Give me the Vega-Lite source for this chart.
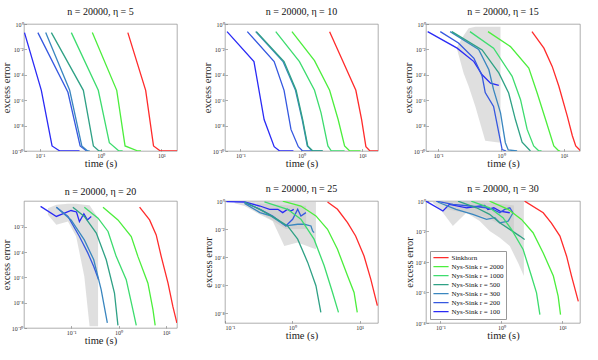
{
  "$schema": "https://vega.github.io/schema/vega-lite/v6.json",
  "background": "white",
  "padding": {"left": 0, "top": 6, "right": 4, "bottom": 4},
  "bounds": "flush",
  "center": true,
  "columns": 3,
  "spacing": {"row": 50, "column": 48},
  "datasets": {
    "lines": [
      {"panel":1,"series":"100","time":0.056,"err":0.21},{"panel":1,"series":"100","time":0.106,"err":6e-6},{"panel":1,"series":"100","time":0.159,"err":2.5e-10},{"panel":1,"series":"100","time":0.213,"err":1e-10},{"panel":1,"series":"100","time":0.45,"err":1e-10},
      {"panel":1,"series":"200","time":0.093,"err":0.21},{"panel":1,"series":"200","time":0.29,"err":4.2e-6},{"panel":1,"series":"200","time":0.46,"err":2.5e-10},{"panel":1,"series":"200","time":0.59,"err":1e-10},{"panel":1,"series":"200","time":0.62,"err":1e-10},
      {"panel":1,"series":"300","time":0.125,"err":0.21},{"panel":1,"series":"300","time":0.31,"err":6e-6},{"panel":1,"series":"300","time":0.49,"err":2.5e-10},{"panel":1,"series":"300","time":0.61,"err":1e-10},{"panel":1,"series":"300","time":0.66,"err":1e-10},
      {"panel":1,"series":"500","time":0.155,"err":0.21},{"panel":1,"series":"500","time":0.52,"err":6e-6},{"panel":1,"series":"500","time":0.76,"err":2.5e-10},{"panel":1,"series":"500","time":0.94,"err":1e-10},{"panel":1,"series":"500","time":1.05,"err":1e-10},
      {"panel":1,"series":"1000","time":0.33,"err":0.21},{"panel":1,"series":"1000","time":0.915,"err":6e-6},{"panel":1,"series":"1000","time":1.39,"err":4.5e-10},{"panel":1,"series":"1000","time":2.0,"err":1e-10},{"panel":1,"series":"1000","time":2.3,"err":1e-10},
      {"panel":1,"series":"2000","time":0.73,"err":0.21},{"panel":1,"series":"2000","time":1.84,"err":6e-6},{"panel":1,"series":"2000","time":2.52,"err":2.5e-10},{"panel":1,"series":"2000","time":4.1,"err":1e-10},{"panel":1,"series":"2000","time":4.6,"err":1e-10},
      {"panel":1,"series":"Sinkhorn","time":2.8,"err":0.21},{"panel":1,"series":"Sinkhorn","time":5.5,"err":6e-6},{"panel":1,"series":"Sinkhorn","time":7.4,"err":2.5e-10},{"panel":1,"series":"Sinkhorn","time":9.6,"err":1e-10},{"panel":1,"series":"Sinkhorn","time":18,"err":1e-10},

      {"panel":2,"series":"100","time":0.0605,"err":0.25},{"panel":2,"series":"100","time":0.167,"err":1.1e-3},{"panel":2,"series":"100","time":0.245,"err":3e-8},{"panel":2,"series":"100","time":0.358,"err":2.2e-10},{"panel":2,"series":"100","time":0.44,"err":1e-10},{"panel":2,"series":"100","time":0.74,"err":1e-10},
      {"panel":2,"series":"200","time":0.13,"err":0.25},{"panel":2,"series":"200","time":0.358,"err":1.1e-3},{"panel":2,"series":"200","time":0.52,"err":6e-6},{"panel":2,"series":"200","time":0.675,"err":5e-9},{"panel":2,"series":"200","time":0.89,"err":2.2e-10},{"panel":2,"series":"200","time":1.05,"err":1e-10},{"panel":2,"series":"200","time":1.54,"err":1e-10},
      {"panel":2,"series":"300","time":0.178,"err":0.25},{"panel":2,"series":"300","time":0.5,"err":1.1e-3},{"panel":2,"series":"300","time":0.8,"err":6e-6},{"panel":2,"series":"300","time":1.03,"err":3e-8},{"panel":2,"series":"300","time":1.25,"err":2.5e-10},{"panel":2,"series":"300","time":1.5,"err":1e-10},{"panel":2,"series":"300","time":2.2,"err":1e-10},
      {"panel":2,"series":"500","time":0.183,"err":0.25},{"panel":2,"series":"500","time":0.52,"err":1.1e-3},{"panel":2,"series":"500","time":0.82,"err":6e-6},{"panel":2,"series":"500","time":1.05,"err":3e-8},{"panel":2,"series":"500","time":1.27,"err":2.5e-10},{"panel":2,"series":"500","time":1.54,"err":1e-10},{"panel":2,"series":"500","time":2.25,"err":1e-10},
      {"panel":2,"series":"1000","time":0.38,"err":0.25},{"panel":2,"series":"1000","time":0.93,"err":1.1e-3},{"panel":2,"series":"1000","time":1.64,"err":6e-6},{"panel":2,"series":"1000","time":2.1,"err":1e-7},{"panel":2,"series":"1000","time":2.72,"err":2.5e-10},{"panel":2,"series":"1000","time":3.1,"err":1e-10},{"panel":2,"series":"1000","time":5.1,"err":1e-10},
      {"panel":2,"series":"2000","time":0.7,"err":0.25},{"panel":2,"series":"2000","time":1.64,"err":1.3e-3},{"panel":2,"series":"2000","time":2.9,"err":6e-6},{"panel":2,"series":"2000","time":4.0,"err":3e-8},{"panel":2,"series":"2000","time":5.1,"err":2.5e-10},{"panel":2,"series":"2000","time":6.2,"err":1e-10},{"panel":2,"series":"2000","time":9.3,"err":1e-10},
      {"panel":2,"series":"Sinkhorn","time":2.9,"err":0.25},{"panel":2,"series":"Sinkhorn","time":4.8,"err":1.1e-3},{"panel":2,"series":"Sinkhorn","time":7.8,"err":6e-6},{"panel":2,"series":"Sinkhorn","time":9.7,"err":3e-8},{"panel":2,"series":"Sinkhorn","time":11.4,"err":2.2e-10},{"panel":2,"series":"Sinkhorn","time":13.3,"err":1e-10},{"panel":2,"series":"Sinkhorn","time":19,"err":1e-10},

      {"panel":3,"series":"100","time":0.068,"err":0.25},{"panel":3,"series":"100","time":0.2,"err":0.0126},{"panel":3,"series":"100","time":0.37,"err":1.1e-3},{"panel":3,"series":"100","time":0.5,"err":1e-4},{"panel":3,"series":"100","time":0.68,"err":2.2e-5},{"panel":3,"series":"100","time":0.92,"err":1.5e-5},
      {"panel":3,"series":"200","time":0.108,"err":0.25},{"panel":3,"series":"200","time":0.21,"err":0.032},{"panel":3,"series":"200","time":0.37,"err":2e-3},{"panel":3,"series":"200","time":0.5,"err":8e-5},{"panel":3,"series":"200","time":0.56,"err":4e-6},{"panel":3,"series":"200","time":0.76,"err":3.2e-7},{"panel":3,"series":"200","time":0.94,"err":1.6e-9},{"panel":3,"series":"200","time":1.04,"err":1.3e-10},{"panel":3,"series":"200","time":1.2,"err":1e-10},
      {"panel":3,"series":"300","time":0.155,"err":0.25},{"panel":3,"series":"300","time":0.44,"err":0.01},{"panel":3,"series":"300","time":0.64,"err":2.5e-4},{"panel":3,"series":"300","time":0.76,"err":6.8e-6},{"panel":3,"series":"300","time":0.98,"err":1e-7},{"panel":3,"series":"300","time":1.17,"err":4.5e-10},{"panel":3,"series":"300","time":1.3,"err":1.2e-10},{"panel":3,"series":"300","time":1.8,"err":1e-10},
      {"panel":3,"series":"500","time":0.165,"err":0.25},{"panel":3,"series":"500","time":0.5,"err":9e-3},{"panel":3,"series":"500","time":0.92,"err":1.4e-4},{"panel":3,"series":"500","time":1.32,"err":3.7e-6},{"panel":3,"series":"500","time":1.69,"err":3e-8},{"panel":3,"series":"500","time":2.16,"err":5e-10},{"panel":3,"series":"500","time":2.93,"err":1e-10},
      {"panel":3,"series":"1000","time":0.32,"err":0.25},{"panel":3,"series":"1000","time":0.76,"err":0.0126},{"panel":3,"series":"1000","time":1.5,"err":7.6e-5},{"panel":3,"series":"1000","time":2.04,"err":1.1e-6},{"panel":3,"series":"1000","time":2.6,"err":5e-9},{"panel":3,"series":"1000","time":3.3,"err":2.5e-10},{"panel":3,"series":"1000","time":4.0,"err":1e-10},{"panel":3,"series":"1000","time":4.4,"err":1e-10},
      {"panel":3,"series":"2000","time":0.62,"err":0.25},{"panel":3,"series":"2000","time":1.41,"err":0.0166},{"panel":3,"series":"2000","time":2.76,"err":3.4e-4},{"panel":3,"series":"2000","time":3.75,"err":3.7e-6},{"panel":3,"series":"2000","time":5.1,"err":3e-8},{"panel":3,"series":"2000","time":6.9,"err":2.5e-10},{"panel":3,"series":"2000","time":8.3,"err":1e-10},{"panel":3,"series":"2000","time":8.7,"err":1e-10},
      {"panel":3,"series":"Sinkhorn","time":3.1,"err":0.25},{"panel":3,"series":"Sinkhorn","time":4.8,"err":0.0126},{"panel":3,"series":"Sinkhorn","time":6.5,"err":4.6e-4},{"panel":3,"series":"Sinkhorn","time":8.3,"err":1.26e-5},{"panel":3,"series":"Sinkhorn","time":11.3,"err":5.5e-8},{"panel":3,"series":"Sinkhorn","time":13.6,"err":1.6e-9},{"panel":3,"series":"Sinkhorn","time":15.4,"err":2.5e-10},{"panel":3,"series":"Sinkhorn","time":18.5,"err":1e-10},

      {"panel":4,"series":"100","time":0.0228,"err":0.41},{"panel":4,"series":"100","time":0.049,"err":0.066},{"panel":4,"series":"100","time":0.1,"err":0.195},{"panel":4,"series":"100","time":0.13,"err":0.15},{"panel":4,"series":"100","time":0.15,"err":0.026},{"panel":4,"series":"100","time":0.186,"err":0.107},{"panel":4,"series":"100","time":0.22,"err":0.035},{"panel":4,"series":"100","time":0.266,"err":0.066},
      {"panel":4,"series":"200","time":0.049,"err":0.355},{"panel":4,"series":"200","time":0.086,"err":0.066},{"panel":4,"series":"200","time":0.15,"err":1.7e-3},{"panel":4,"series":"200","time":0.226,"err":8.3e-5},{"panel":4,"series":"200","time":0.3,"err":7.4e-6},{"panel":4,"series":"200","time":0.38,"err":6.6e-7},
      {"panel":4,"series":"300","time":0.049,"err":0.355},{"panel":4,"series":"300","time":0.1,"err":0.035},{"panel":4,"series":"300","time":0.19,"err":9.3e-4},{"panel":4,"series":"300","time":0.3,"err":2.5e-5},{"panel":4,"series":"300","time":0.43,"err":1.07e-7},{"panel":4,"series":"300","time":0.58,"err":2.5e-10},
      {"panel":4,"series":"500","time":0.109,"err":0.355},{"panel":4,"series":"500","time":0.19,"err":0.066},{"panel":4,"series":"500","time":0.34,"err":3.2e-3},{"panel":4,"series":"500","time":0.55,"err":2.5e-5},{"panel":4,"series":"500","time":0.82,"err":5.8e-8},{"panel":4,"series":"500","time":0.97,"err":1.6e-10},
      {"panel":4,"series":"1000","time":0.19,"err":0.355},{"panel":4,"series":"1000","time":0.37,"err":0.048},{"panel":4,"series":"1000","time":0.6,"err":4.3e-3},{"panel":4,"series":"1000","time":0.89,"err":4.6e-5},{"panel":4,"series":"1000","time":1.45,"err":6.6e-7},{"panel":4,"series":"1000","time":2.0,"err":2.8e-9},{"panel":4,"series":"1000","time":2.36,"err":1.6e-10},
      {"panel":4,"series":"2000","time":0.47,"err":0.355},{"panel":4,"series":"2000","time":0.97,"err":0.035},{"panel":4,"series":"2000","time":1.85,"err":1.7e-3},{"panel":4,"series":"2000","time":2.55,"err":4.6e-5},{"panel":4,"series":"2000","time":4.15,"err":3.5e-7},{"panel":4,"series":"2000","time":5.3,"err":2.8e-9},{"panel":4,"series":"2000","time":5.9,"err":1.6e-10},
      {"panel":4,"series":"Sinkhorn","time":2.77,"err":0.355},{"panel":4,"series":"Sinkhorn","time":4.5,"err":0.035},{"panel":4,"series":"Sinkhorn","time":6.2,"err":2.3e-3},{"panel":4,"series":"Sinkhorn","time":7.9,"err":4.6e-5},{"panel":4,"series":"Sinkhorn","time":11,"err":3.5e-7},{"panel":4,"series":"Sinkhorn","time":13.9,"err":5.1e-9},{"panel":4,"series":"Sinkhorn","time":16.9,"err":2.5e-10},

      {"panel":5,"series":"100","time":0.105,"err":0.9},{"panel":5,"series":"100","time":0.195,"err":0.85},{"panel":5,"series":"100","time":0.33,"err":0.44},{"panel":5,"series":"100","time":0.46,"err":0.255},{"panel":5,"series":"100","time":0.61,"err":0.255},{"panel":5,"series":"100","time":0.72,"err":0.148},{"panel":5,"series":"100","time":0.85,"err":0.255},{"panel":5,"series":"100","time":0.95,"err":0.195},{"panel":5,"series":"100","time":1.05,"err":0.255},
      {"panel":5,"series":"200","time":0.195,"err":0.76},{"panel":5,"series":"200","time":0.33,"err":0.255},{"panel":5,"series":"200","time":0.51,"err":0.086},{"panel":5,"series":"200","time":0.8,"err":0.0167},{"panel":5,"series":"200","time":1.01,"err":0.05},{"panel":5,"series":"200","time":1.2,"err":0.255},{"panel":5,"series":"200","time":1.34,"err":0.086},{"panel":5,"series":"200","time":1.59,"err":0.148},
      {"panel":5,"series":"300","time":0.195,"err":0.68},{"panel":5,"series":"300","time":0.33,"err":0.148},{"panel":5,"series":"300","time":0.48,"err":0.086},{"panel":5,"series":"300","time":0.8,"err":0.0167},{"panel":5,"series":"300","time":1.2,"err":0.022},{"panel":5,"series":"300","time":1.5,"err":0.022},{"panel":5,"series":"300","time":1.89,"err":0.0167},{"panel":5,"series":"300","time":2.0,"err":7.4e-3},{"panel":5,"series":"300","time":2.1,"err":5.6e-3},
      {"panel":5,"series":"500","time":0.195,"err":0.85},{"panel":5,"series":"500","time":0.33,"err":0.255},{"panel":5,"series":"500","time":0.54,"err":0.065},{"panel":5,"series":"500","time":0.85,"err":0.0167},{"panel":5,"series":"500","time":1.2,"err":1.9e-3},{"panel":5,"series":"500","time":1.69,"err":4.2e-5},{"panel":5,"series":"500","time":2.24,"err":9.1e-7},{"panel":5,"series":"500","time":2.65,"err":1.15e-8},
      {"panel":5,"series":"1000","time":0.385,"err":0.85},{"panel":5,"series":"1000","time":0.85,"err":0.255},{"panel":5,"series":"1000","time":1.34,"err":0.05},{"panel":5,"series":"1000","time":2.1,"err":1.9e-3},{"panel":5,"series":"1000","time":2.97,"err":2.4e-5},{"panel":5,"series":"1000","time":3.95,"err":3e-7},{"panel":5,"series":"1000","time":4.84,"err":1.15e-8},
      {"panel":5,"series":"2000","time":0.72,"err":0.98},{"panel":5,"series":"2000","time":1.34,"err":0.44},{"panel":5,"series":"2000","time":2.24,"err":0.086},{"panel":5,"series":"2000","time":3.33,"err":9.6e-3},{"panel":5,"series":"2000","time":4.68,"err":3.6e-4},{"panel":5,"series":"2000","time":6.6,"err":4.7e-6},{"panel":5,"series":"2000","time":8.25,"err":3e-7},{"panel":5,"series":"2000","time":9.2,"err":1.15e-8},
      {"panel":5,"series":"Sinkhorn","time":3.33,"err":0.85},{"panel":5,"series":"Sinkhorn","time":4.68,"err":0.255},{"panel":5,"series":"Sinkhorn","time":6.6,"err":0.0288},{"panel":5,"series":"Sinkhorn","time":8.7,"err":3.2e-3},{"panel":5,"series":"Sinkhorn","time":11.6,"err":1.2e-4},{"panel":5,"series":"Sinkhorn","time":14.6,"err":2.7e-6},{"panel":5,"series":"Sinkhorn","time":18.3,"err":3.5e-8},

      {"panel":6,"series":"100","time":0.058,"err":0.98},{"panel":6,"series":"100","time":0.11,"err":0.22},{"panel":6,"series":"100","time":0.14,"err":0.6},{"panel":6,"series":"100","time":0.27,"err":0.36},{"panel":6,"series":"100","time":0.53,"err":0.52},{"panel":6,"series":"100","time":0.6,"err":0.28},{"panel":6,"series":"100","time":0.75,"err":0.36},{"panel":6,"series":"100","time":0.94,"err":0.22},{"panel":6,"series":"100","time":1.37,"err":0.17},
      {"panel":6,"series":"200","time":0.085,"err":0.98},{"panel":6,"series":"200","time":0.16,"err":0.6},{"panel":6,"series":"200","time":0.3,"err":0.47},{"panel":6,"series":"200","time":0.57,"err":0.36},{"panel":6,"series":"200","time":0.73,"err":0.28},{"panel":6,"series":"200","time":0.94,"err":0.17},{"panel":6,"series":"200","time":1.13,"err":0.28},{"panel":6,"series":"200","time":1.37,"err":0.36},{"panel":6,"series":"200","time":1.55,"err":0.17},
      {"panel":6,"series":"300","time":0.09,"err":0.86},{"panel":6,"series":"300","time":0.18,"err":0.28},{"panel":6,"series":"300","time":0.34,"err":0.133},{"panel":6,"series":"300","time":0.57,"err":0.062},{"panel":6,"series":"300","time":0.78,"err":0.08},{"panel":6,"series":"300","time":0.94,"err":0.037},{"panel":6,"series":"300","time":1.29,"err":0.048},{"panel":6,"series":"300","time":1.55,"err":0.17},
      {"panel":6,"series":"500","time":0.194,"err":0.98},{"panel":6,"series":"500","time":0.39,"err":0.36},{"panel":6,"series":"500","time":0.64,"err":0.133},{"panel":6,"series":"500","time":0.94,"err":0.037},{"panel":6,"series":"500","time":1.37,"err":0.0137},{"panel":6,"series":"500","time":2.0,"err":5e-3},{"panel":6,"series":"500","time":2.4,"err":3e-3},
      {"panel":6,"series":"1000","time":0.32,"err":0.98},{"panel":6,"series":"1000","time":0.64,"err":0.36},{"panel":6,"series":"1000","time":1.06,"err":0.08},{"panel":6,"series":"1000","time":1.46,"err":0.0137},{"panel":6,"series":"1000","time":2.27,"err":6.6e-4},{"panel":6,"series":"1000","time":3.1,"err":1.2e-5},{"panel":6,"series":"1000","time":3.76,"err":9.4e-7},{"panel":6,"series":"1000","time":4.27,"err":3.5e-8},
      {"panel":6,"series":"2000","time":0.64,"err":0.98},{"panel":6,"series":"2000","time":1.29,"err":0.28},{"panel":6,"series":"2000","time":2.13,"err":0.062},{"panel":6,"series":"2000","time":3.3,"err":8.3e-3},{"panel":6,"series":"2000","time":4.84,"err":3.9e-4},{"panel":6,"series":"2000","time":7.1,"err":1.2e-5},{"panel":6,"series":"2000","time":8.5,"err":5.7e-7},{"panel":6,"series":"2000","time":9.3,"err":3.5e-8},
      {"panel":6,"series":"Sinkhorn","time":2.4,"err":0.98},{"panel":6,"series":"Sinkhorn","time":4.84,"err":0.17},{"panel":6,"series":"Sinkhorn","time":6.6,"err":0.035},{"panel":6,"series":"Sinkhorn","time":9.1,"err":5e-3},{"panel":6,"series":"Sinkhorn","time":11.7,"err":2.4e-4},{"panel":6,"series":"Sinkhorn","time":14.1,"err":1.2e-5},{"panel":6,"series":"Sinkhorn","time":18.2,"err":2.6e-7}
    ],
    "bands": [
      {"panel":3,"band":1,"time":0.2,"hi":0.016,"lo":0.01},{"panel":3,"band":1,"time":0.254,"hi":0.126,"lo":1.35e-4},{"panel":3,"band":1,"time":0.305,"hi":0.46,"lo":1.26e-5},{"panel":3,"band":1,"time":0.39,"hi":0.6,"lo":3.2e-7},{"panel":3,"band":1,"time":0.56,"hi":0.6,"lo":6.3e-10},{"panel":3,"band":1,"time":0.98,"hi":0.6,"lo":4.5e-10},
      {"panel":4,"band":1,"time":0.0325,"hi":0.3,"lo":0.089},{"panel":4,"band":1,"time":0.049,"hi":0.55,"lo":0.0145},{"panel":4,"band":1,"time":0.086,"hi":0.66,"lo":0.026},{"panel":4,"band":1,"time":0.128,"hi":0.66,"lo":1.7e-3},{"panel":4,"band":1,"time":0.19,"hi":0.55,"lo":1.2e-6},{"panel":4,"band":1,"time":0.245,"hi":0.5,"lo":1.35e-10},{"panel":4,"band":1,"time":0.37,"hi":0.05,"lo":1.35e-10},
      {"panel":5,"band":1,"time":0.139,"hi":1,"lo":0.68},{"panel":5,"band":1,"time":0.195,"hi":1,"lo":0.44},{"panel":5,"band":1,"time":0.33,"hi":1,"lo":0.11},{"panel":5,"band":1,"time":0.51,"hi":0.95,"lo":0.038},{"panel":5,"band":1,"time":0.76,"hi":1,"lo":6.3e-4},{"panel":5,"band":1,"time":1.2,"hi":1,"lo":1.1e-3},{"panel":5,"band":1,"time":1.89,"hi":1,"lo":4.8e-4},{"panel":5,"band":1,"time":2.24,"hi":1,"lo":3.6e-4},
      {"panel":5,"band":2,"time":0.3,"hi":0.7,"lo":0.2},{"panel":5,"band":2,"time":0.8,"hi":0.5,"lo":0.01},{"panel":5,"band":2,"time":1.6,"hi":0.45,"lo":0.01},
      {"panel":6,"band":1,"time":0.075,"hi":1,"lo":0.78},{"panel":6,"band":1,"time":0.11,"hi":1,"lo":0.17},{"panel":6,"band":1,"time":0.16,"hi":1,"lo":0.023},{"panel":6,"band":1,"time":0.266,"hi":1,"lo":0.17},{"panel":6,"band":1,"time":0.44,"hi":1,"lo":0.048},{"panel":6,"band":1,"time":0.64,"hi":1,"lo":0.0107},{"panel":6,"band":1,"time":0.94,"hi":1,"lo":3.9e-3},{"panel":6,"band":1,"time":1.37,"hi":1,"lo":1.1e-3},{"panel":6,"band":1,"time":1.88,"hi":1,"lo":8.7e-5},{"panel":6,"band":1,"time":2.33,"hi":1,"lo":1.2e-5},
      {"panel":6,"band":2,"time":0.12,"hi":0.9,"lo":0.3},{"panel":6,"band":2,"time":0.5,"hi":0.8,"lo":0.1},{"panel":6,"band":2,"time":1.2,"hi":0.6,"lo":0.02},{"panel":6,"band":2,"time":1.6,"hi":0.5,"lo":0.01}
    ]
  },
  "resolve": {"scale": {"x": "independent", "y": "independent"}, "legend": {"color": "independent"}},
  "concat": [
    {
      "width": 153, "height": 127,
      "title": "n = 20000, η = 5",
      "layer": [
        {"data": {"name": "lines"}, "transform": [{"filter": "datum.panel == 1"}],
         "mark": {"type": "line", "clip": true},
         "encoding": {
           "x": {"field": "time", "type": "quantitative", "scale": {"type": "log", "domain": [0.055, 18], "nice": false}, "axis": {"values": [0.1, 1, 10], "title": "time (s)"}},
           "y": {"field": "err", "type": "quantitative", "scale": {"type": "log", "domain": [1e-10, 1], "nice": false}, "axis": {"values": [1e-10, 1e-8, 1e-6, 1e-4, 1e-2, 1], "title": "excess error"}},
           "color": {"field": "series", "type": "nominal", "scale": {"domain": ["Sinkhorn", "2000", "1000", "500", "300", "200", "100"], "range": ["#ff2b2b", "#4cee3c", "#3ddc6e", "#2fa185", "#3a86bf", "#3558e0", "#2a2af5"]}, "legend": null}
         }}
      ]
    },
    {
      "width": 153, "height": 127,
      "title": "n = 20000, η = 10",
      "layer": [
        {"data": {"name": "lines"}, "transform": [{"filter": "datum.panel == 2"}],
         "mark": {"type": "line", "clip": true},
         "encoding": {
           "x": {"field": "time", "type": "quantitative", "scale": {"type": "log", "domain": [0.056, 18], "nice": false}, "axis": {"values": [0.1, 1, 10], "title": "time (s)"}},
           "y": {"field": "err", "type": "quantitative", "scale": {"type": "log", "domain": [1e-10, 1], "nice": false}, "axis": {"values": [1e-10, 1e-8, 1e-6, 1e-4, 1e-2, 1], "title": "excess error"}},
           "color": {"field": "series", "type": "nominal", "scale": {"domain": ["Sinkhorn", "2000", "1000", "500", "300", "200", "100"], "range": ["#ff2b2b", "#4cee3c", "#3ddc6e", "#2fa185", "#3a86bf", "#3558e0", "#2a2af5"]}, "legend": null}
         }}
      ]
    },
    {
      "width": 154, "height": 127,
      "title": "n = 20000, η = 15",
      "layer": [
        {"data": {"name": "bands"}, "transform": [{"filter": "datum.panel == 3"}],
         "mark": {"type": "area", "clip": true, "color": "#c4c4c4", "opacity": 0.55},
         "encoding": {
           "x": {"field": "time", "type": "quantitative", "scale": {"type": "log", "domain": [0.064, 18], "nice": false}, "axis": {"values": [0.1, 1, 10], "title": "time (s)"}},
           "y": {"field": "hi", "type": "quantitative", "scale": {"type": "log", "domain": [1e-10, 1], "nice": false}, "axis": {"values": [1e-10, 1e-8, 1e-6, 1e-4, 1e-2, 1], "title": "excess error"}},
           "y2": {"field": "lo"},
           "detail": {"field": "band", "type": "nominal"}
         }},
        {"data": {"name": "lines"}, "transform": [{"filter": "datum.panel == 3"}],
         "mark": {"type": "line", "clip": true},
         "encoding": {
           "x": {"field": "time", "type": "quantitative", "axis": {"values": [0.1, 1, 10], "title": "time (s)"}},
           "y": {"field": "err", "type": "quantitative", "axis": {"values": [1e-10, 1e-8, 1e-6, 1e-4, 1e-2, 1], "title": "excess error"}},
           "color": {"field": "series", "type": "nominal", "scale": {"domain": ["Sinkhorn", "2000", "1000", "500", "300", "200", "100"], "range": ["#ff2b2b", "#4cee3c", "#3ddc6e", "#2fa185", "#3a86bf", "#3558e0", "#2a2af5"]}, "legend": null}
         }}
      ]
    },
    {
      "width": 153, "height": 127,
      "title": "n = 20000, η = 20",
      "layer": [
        {"data": {"name": "bands"}, "transform": [{"filter": "datum.panel == 4"}],
         "mark": {"type": "area", "clip": true, "color": "#c4c4c4", "opacity": 0.55},
         "encoding": {
           "x": {"field": "time", "type": "quantitative", "scale": {"type": "log", "domain": [0.0102, 17], "nice": false}, "axis": {"values": [0.1, 1, 10], "title": "time (s)"}},
           "y": {"field": "hi", "type": "quantitative", "scale": {"type": "log", "domain": [1e-10, 1.1], "nice": false}, "axis": {"values": [1e-10, 1e-8, 1e-6, 1e-4, 1e-2], "title": "excess error"}},
           "y2": {"field": "lo"},
           "detail": {"field": "band", "type": "nominal"}
         }},
        {"data": {"name": "lines"}, "transform": [{"filter": "datum.panel == 4"}],
         "mark": {"type": "line", "clip": true},
         "encoding": {
           "x": {"field": "time", "type": "quantitative", "axis": {"values": [0.1, 1, 10], "title": "time (s)"}},
           "y": {"field": "err", "type": "quantitative", "axis": {"values": [1e-10, 1e-8, 1e-6, 1e-4, 1e-2], "title": "excess error"}},
           "color": {"field": "series", "type": "nominal", "scale": {"domain": ["Sinkhorn", "2000", "1000", "500", "300", "200", "100"], "range": ["#ff2b2b", "#4cee3c", "#3ddc6e", "#2fa185", "#3a86bf", "#3558e0", "#2a2af5"]}, "legend": null}
         }}
      ]
    },
    {
      "width": 153, "height": 122,
      "title": "n = 20000, η = 25",
      "layer": [
        {"data": {"name": "bands"}, "transform": [{"filter": "datum.panel == 5"}],
         "mark": {"type": "area", "clip": true, "color": "#c4c4c4", "opacity": 0.55},
         "encoding": {
           "x": {"field": "time", "type": "quantitative", "scale": {"type": "log", "domain": [0.1, 18.7], "nice": false}, "axis": {"values": [0.1, 1, 10], "title": "time (s)"}},
           "y": {"field": "hi", "type": "quantitative", "scale": {"type": "log", "domain": [2e-9, 1], "nice": false}, "axis": {"values": [1e-8, 1e-6, 1e-4, 1e-2, 1], "title": "excess error"}},
           "y2": {"field": "lo"},
           "detail": {"field": "band", "type": "nominal"}
         }},
        {"data": {"name": "lines"}, "transform": [{"filter": "datum.panel == 5"}],
         "mark": {"type": "line", "clip": true},
         "encoding": {
           "x": {"field": "time", "type": "quantitative", "axis": {"values": [0.1, 1, 10], "title": "time (s)"}},
           "y": {"field": "err", "type": "quantitative", "axis": {"values": [1e-8, 1e-6, 1e-4, 1e-2, 1], "title": "excess error"}},
           "color": {"field": "series", "type": "nominal", "scale": {"domain": ["Sinkhorn", "2000", "1000", "500", "300", "200", "100"], "range": ["#ff2b2b", "#4cee3c", "#3ddc6e", "#2fa185", "#3a86bf", "#3558e0", "#2a2af5"]}, "legend": null}
         }}
      ]
    },
    {
      "width": 154, "height": 122,
      "title": "n = 20000, η = 30",
      "layer": [
        {"data": {"name": "bands"}, "transform": [{"filter": "datum.panel == 6"}],
         "mark": {"type": "area", "clip": true, "color": "#c4c4c4", "opacity": 0.55},
         "encoding": {
           "x": {"field": "time", "type": "quantitative", "scale": {"type": "log", "domain": [0.058, 19.4], "nice": false}, "axis": {"values": [0.1, 1, 10], "title": "time (s)"}},
           "y": {"field": "hi", "type": "quantitative", "scale": {"type": "log", "domain": [1e-8, 1], "nice": false}, "axis": {"values": [1e-8, 1e-6, 1e-4, 1e-2, 1], "title": "excess error"}},
           "y2": {"field": "lo"},
           "detail": {"field": "band", "type": "nominal"}
         }},
        {"data": {"name": "lines"}, "transform": [{"filter": "datum.panel == 6"}],
         "mark": {"type": "line", "clip": true},
         "encoding": {
           "x": {"field": "time", "type": "quantitative", "axis": {"values": [0.1, 1, 10], "title": "time (s)"}},
           "y": {"field": "err", "type": "quantitative", "axis": {"values": [1e-8, 1e-6, 1e-4, 1e-2, 1], "title": "excess error"}},
           "color": {"field": "series", "type": "nominal", "scale": {"domain": ["Sinkhorn", "2000", "1000", "500", "300", "200", "100"], "range": ["#ff2b2b", "#4cee3c", "#3ddc6e", "#2fa185", "#3a86bf", "#3558e0", "#2a2af5"]},
             "legend": {"orient": "bottom-left", "offset": 4, "title": null, "symbolType": "stroke", "symbolStrokeWidth": 1.8, "symbolSize": 230, "clipHeight": 8.3, "labelFont": "Liberation Serif", "labelFontSize": 7, "labelColor": "#111", "fillColor": "white", "strokeColor": "#999", "padding": 2.5, "rowPadding": 0, "labelOffset": 2, "labelExpr": "datum.label == 'Sinkhorn' ? datum.label : 'Nys-Sink r = ' + datum.label"}}
         }}
      ]
    }
  ],
  "config": {
    "view": {"stroke": "#8c8c8c", "strokeWidth": 0.7},
    "axis": {"grid": false, "domain": false, "labelFont": "Liberation Serif", "labelFontSize": 6, "labelColor": "#333", "titleFont": "Liberation Serif", "titleFontSize": 10.5, "titleFontWeight": "normal", "titleColor": "#222", "tickColor": "#777", "tickSize": -2.5, "tickWidth": 0.6, "labelPadding": 3.5, "titlePadding": 0,
      "labelExpr": "'10' + replace(replace(replace(replace(replace(replace(replace(toString(round(log(datum.value)/LN10)),'-','⁻'),'0','⁰'),'1','¹'),'2','²'),'4','⁴'),'6','⁶'),'8','⁸')"},
    "title": {"font": "Liberation Serif", "fontSize": 10, "fontWeight": "normal", "color": "#111", "offset": 4},
    "line": {"strokeWidth": 1.3}
  }
}
